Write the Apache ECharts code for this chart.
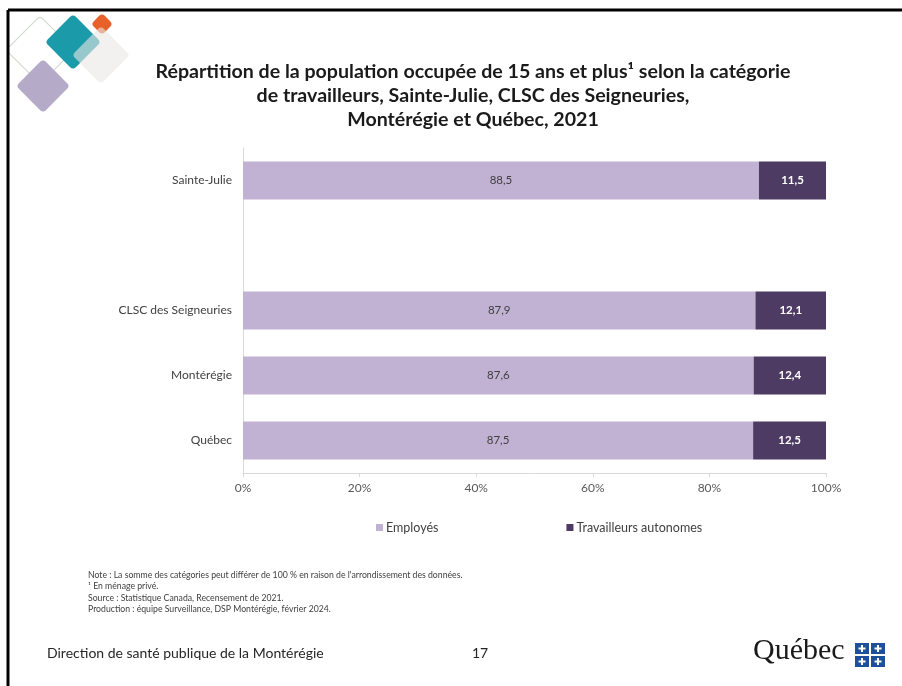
<!DOCTYPE html>
<html>
<head>
<meta charset="utf-8">
<script src="https://cdn.jsdelivr.net/npm/echarts@6/dist/echarts.min.js"></script>
<style>
  html, body { margin: 0; padding: 0; background: #fff; }
  #chart { width: 902px; height: 686px; }
</style>
</head>
<body>
<div id="chart"></div>
<script>
// catégories (la ligne vide sépare Sainte-Julie des autres territoires)
const categories = ['Sainte-Julie', '', 'CLSC des Seigneuries', 'Montérégie', 'Québec'];
const employes = [88.5, '-', 87.9, 87.6, 87.5]; // Employés
const autonomes = [11.5, '-', 12.1, 12.4, 12.5]; // Travailleurs autonomes
const xTicks = [0, 20, 40, 60, 80, 100];
const seriesNames = ['Employés', 'Travailleurs autonomes'];

const notes = [
  "Note : La somme des catégories peut différer de 100 % en raison de l'arrondissement des données.",
  '¹ En ménage privé.',
  'Source : Statistique Canada, Recensement de 2021.',
  'Production : équipe Surveillance, DSP Montérégie, février 2024.',
];

const FONT = 'Lato, "Open Sans", sans-serif';
const fmt = (v) => String(v.toFixed(1)).replace('.', ',');

const chart = echarts.init(document.getElementById('chart'));

// losange décoratif (carré arrondi tourné de 45°)
function diamond(cx, cy, half, style, z) {
  const side = half * Math.SQRT2;
  return {
    type: 'rect',
    x: cx,
    y: cy,
    rotation: Math.PI / 4,
    shape: { x: -side / 2, y: -side / 2, width: side, height: side, r: 4 },
    style: style,
    z: z,
  };
}

// petit drapeau du logo
const flag = [];
[[855, 643], [871, 643], [855, 656], [871, 656]].forEach(([x, y]) => {
  flag.push({ type: 'rect', shape: { x: x, y: y, width: 14, height: 11 }, style: { fill: '#1d4f9c' } });
  flag.push({ type: 'rect', shape: { x: x + 6, y: y + 2, width: 2, height: 7 }, style: { fill: '#fff' } });
  flag.push({ type: 'rect', shape: { x: x + 3.5, y: y + 4.5, width: 7, height: 2 }, style: { fill: '#fff' } });
});

const option = {
  backgroundColor: '#fff',
  animation: false,
  title: {
    text: 'Répartition de la population occupée de 15 ans et plus¹ selon la catégorie\nde travailleurs, Sainte-Julie, CLSC des Seigneuries,\nMontérégie et Québec, 2021',
    left: 468,
    top: 55,
    textAlign: 'center',
    textStyle: {
      fontFamily: FONT,
      fontSize: 19.6,
      fontWeight: 'bold',
      color: '#1a1a1a',
      lineHeight: 24,
    },
  },
  legend: {
    data: seriesNames,
    top: 516,
    left: 371,
    itemGap: 128,
    itemWidth: 7,
    itemHeight: 7,
    icon: 'rect',
    textStyle: { fontFamily: FONT, fontSize: 12.5, color: '#404040', padding: [0, 0, 0, -2] },
  },
  grid: { left: 243, right: 76, top: 148, bottom: 213, containLabel: false },
  xAxis: {
    type: 'value',
    min: 0,
    max: 100,
    interval: 20,
    axisLine: { show: true, lineStyle: { color: '#d9d9d9', width: 1 } },
    axisTick: { show: true, length: 4, lineStyle: { color: '#d9d9d9' } },
    splitLine: { show: false },
    axisLabel: {
      fontFamily: FONT,
      fontSize: 12,
      color: '#595959',
      margin: 9,
      formatter: (v) => (xTicks.includes(v) ? v + '%' : ''),
    },
  },
  yAxis: {
    type: 'category',
    inverse: true,
    data: categories,
    axisLine: { show: true, lineStyle: { color: '#d9d9d9', width: 1 } },
    axisTick: { show: false },
    axisLabel: { fontFamily: FONT, fontSize: 12, color: '#404040', margin: 11 },
  },
  series: [
    {
      name: seriesNames[0],
      type: 'bar',
      stack: 'total',
      data: employes,
      barWidth: 38,
      itemStyle: { color: '#c1b2d3' },
      label: {
        show: true,
        position: 'inside',
        fontFamily: FONT,
        fontSize: 11.5,
        color: '#404040',
        formatter: (p) => fmt(p.value),
      },
    },
    {
      name: seriesNames[1],
      type: 'bar',
      stack: 'total',
      data: autonomes,
      barWidth: 38,
      itemStyle: { color: '#4d3b63' },
      label: {
        show: true,
        position: 'inside',
        fontFamily: FONT,
        fontSize: 11.5,
        fontWeight: 'bold',
        color: '#ffffff',
        formatter: (p) => fmt(p.value),
      },
    },
  ],
  graphic: [
    // cadre de la diapositive
    { type: 'line', shape: { x1: 8, y1: 10, x2: 902, y2: 10 }, style: { stroke: '#000', lineWidth: 3 }, z: 10 },
    { type: 'line', shape: { x1: 8, y1: 10, x2: 8, y2: 686 }, style: { stroke: '#000', lineWidth: 3 }, z: 10 },
    // losanges décoratifs
    diamond(40, 50, 34, { fill: 'none', stroke: '#d3d9cf', lineWidth: 1.2 }, 1),
    diamond(43, 86, 27, { fill: '#b5abc8' }, 2),
    diamond(73, 42, 28, { fill: '#1b9aa9' }, 3),
    diamond(102, 24, 11, { fill: '#e8612b' }, 4),
    diamond(101, 55, 29, { fill: '#ebe7e4', opacity: 0.6 }, 5),
    // notes
    {
      type: 'text',
      left: 88,
      top: 569,
      style: { text: notes.join('\n'), fontFamily: FONT, fontSize: 8.7, lineHeight: 11.5, fill: '#404040' },
    },
    // pied de page
    {
      type: 'text',
      left: 47,
      top: 646,
      style: { text: 'Direction de santé publique de la Montérégie', fontFamily: FONT, fontSize: 14, fill: '#262626' },
    },
    {
      type: 'text',
      left: 472,
      top: 646,
      style: { text: '17', fontFamily: FONT, fontSize: 14, fill: '#262626' },
    },
    {
      type: 'text',
      left: 753,
      top: 636,
      style: { text: 'Québec', fontFamily: '"Liberation Serif", "DejaVu Serif", serif', fontSize: 30, fill: '#1a1a1a' },
    },
    { type: 'group', children: flag },
  ],
};

chart.setOption(option);
</script>
</body>
</html>
